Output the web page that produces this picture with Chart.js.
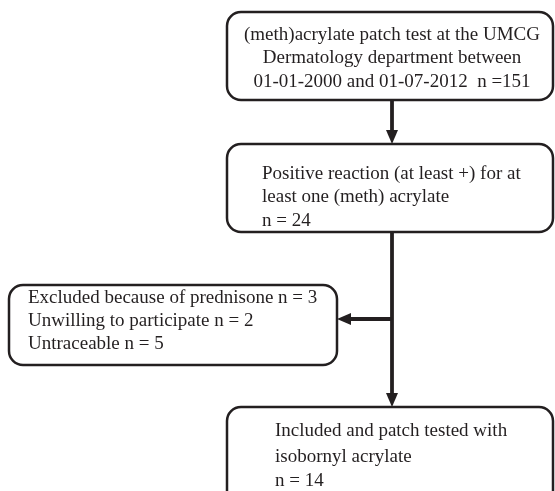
<!DOCTYPE html>
<html>
<head>
<meta charset="utf-8">
<script src="https://cdn.jsdelivr.net/npm/chart.js@4.4.0/dist/chart.umd.min.js"></script>
<style>
  html, body { margin: 0; padding: 0; background: #fff; }
  canvas { display: block; }
</style>
</head>
<body>
<canvas id="flowChart" width="555" height="491"></canvas>
<script>
// Flow of patients (counts per step)
const stepNames = ["screened", "positive", "prednisone", "unwilling", "untraceable", "included"];
const stepCounts = [151, 24, 3, 2, 5, 14];

// Box texts, one array of lines per box
const boxLines = [
  ["(meth)acrylate patch test at the UMCG",
   "Dermatology department between",
   "01-01-2000 and 01-07-2012  n =" + stepCounts[0]],
  ["Positive reaction (at least +) for at",
   "least one (meth) acrylate",
   "n = " + stepCounts[1]],
  ["Excluded because of prednisone n = " + stepCounts[2],
   "Unwilling to participate n = " + stepCounts[3],
   "Untraceable n = " + stepCounts[4]],
  ["Included and patch tested with",
   "isobornyl acrylate",
   "n = " + stepCounts[5]],
];

// Layout in scale units (x: 0..555, y: 0..491 top-down)
const boxLayout = [
  { x0: 227, x1: 553, y0: 12, y1: 100, align: "center", tx: 392, ty: [35, 58, 82] },
  { x0: 227, x1: 553, y0: 144, y1: 232, align: "left", tx: 262, ty: [174, 197, 221] },
  { x0: 9, x1: 337, y0: 285, y1: 365, align: "left", tx: 28, ty: [298, 321, 344] },
  { x0: 227, x1: 553, y0: 407, y1: 510, align: "left", tx: 275, ty: [431, 457, 481] },
];
const arrowLayout = [
  { from: [392, 100], to: [392, 144] },
  { from: [392, 232], to: [392, 407] },
  { from: [392, 319], to: [337, 319] },
];

const ink = "#231f20";

const flowPlugin = {
  id: "flow",
  afterDatasetsDraw(chart) {
    const ctx = chart.ctx;
    const sx = chart.scales.x, sy = chart.scales.y;
    const px = (v) => sx.getPixelForValue(v);
    const py = (v) => sy.getPixelForValue(v);

    ctx.save();
    // arrows
    arrowLayout.forEach((a) => {
      const x0 = px(a.from[0]), y0 = py(a.from[1]);
      const x1 = px(a.to[0]), y1 = py(a.to[1]);
      const ang = Math.atan2(y1 - y0, x1 - x0);
      const head = 14, half = 6;
      ctx.strokeStyle = ink;
      ctx.lineWidth = 3.8;
      ctx.beginPath();
      ctx.moveTo(x0, y0);
      ctx.lineTo(x1 - Math.cos(ang) * head, y1 - Math.sin(ang) * head);
      ctx.stroke();
      ctx.fillStyle = ink;
      ctx.beginPath();
      ctx.moveTo(x1, y1);
      ctx.lineTo(x1 - Math.cos(ang) * head - Math.sin(ang) * half, y1 - Math.sin(ang) * head + Math.cos(ang) * half);
      ctx.lineTo(x1 - Math.cos(ang) * head + Math.sin(ang) * half, y1 - Math.sin(ang) * head - Math.cos(ang) * half);
      ctx.closePath();
      ctx.fill();
    });

    // boxes
    boxLayout.forEach((b, i) => {
      const x0 = px(b.x0), x1 = px(b.x1), y0 = py(b.y0), y1 = py(b.y1);
      ctx.fillStyle = "#fff";
      ctx.strokeStyle = ink;
      ctx.lineWidth = 2.5;
      ctx.beginPath();
      ctx.roundRect(x0, y0, x1 - x0, y1 - y0, 14);
      ctx.fill();
      ctx.stroke();

      ctx.fillStyle = ink;
      ctx.font = "19px 'Liberation Serif', 'Times New Roman', serif";
      ctx.textAlign = b.align;
      ctx.textBaseline = "middle";
      boxLines[i].forEach((line, j) => {
        ctx.fillText(line, px(b.tx), py(b.ty[j]));
      });
    });
    ctx.restore();
  },
};

new Chart(document.getElementById("flowChart"), {
  type: "scatter",
  data: {
    datasets: [{ label: "steps", data: [], pointRadius: 0 }],
  },
  options: {
    responsive: false,
    animation: false,
    layout: { padding: 0 },
    scales: {
      x: { type: "linear", min: 0, max: 555, display: false },
      y: { type: "linear", min: 0, max: 491, reverse: true, display: false },
    },
    plugins: {
      legend: { display: false },
      tooltip: { enabled: false },
    },
  },
  plugins: [flowPlugin],
});
</script>
</body>
</html>
